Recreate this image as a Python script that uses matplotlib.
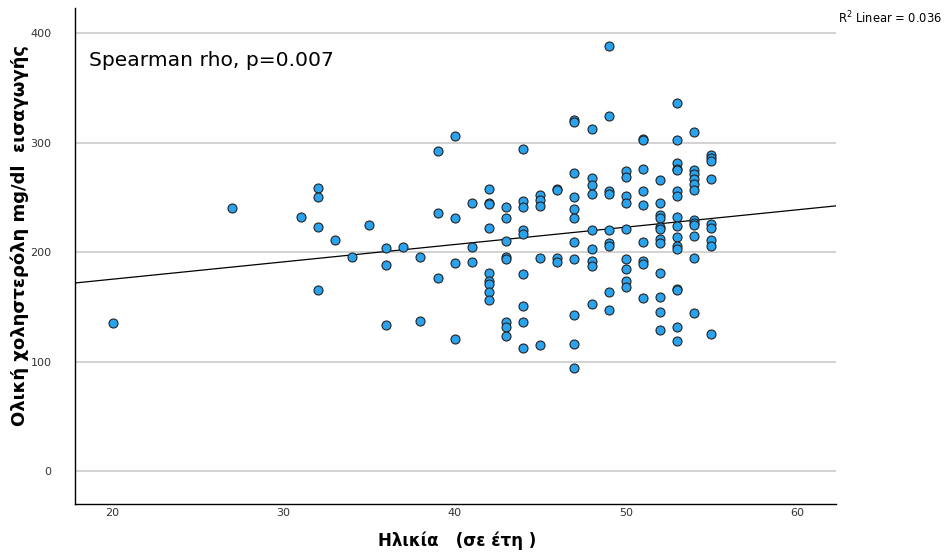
import numpy as np
import matplotlib
matplotlib.use("Agg")
import matplotlib.pyplot as plt

# Data (age -> cholesterol values)
ages_by_group = [20, 27, 31, 32, 33, 34, 35, 36, 37, 38, 39, 40, 41, 42, 43, 44,
                 45, 46, 47, 48, 49, 50, 51, 52, 53, 54, 55]
chol_by_group = [
    [135],
    [240],
    [232],
    [259, 250, 223, 165],
    [211],
    [196],
    [225],
    [204, 188, 133],
    [205],
    [196, 137],
    [292, 236, 176],
    [306, 231, 190, 121],
    [245, 205, 191],
    [258, 245, 244, 222, 181, 174, 171, 164, 156],
    [241, 231, 210, 196, 194, 136, 132, 123],
    [294, 247, 241, 220, 217, 180, 151, 136, 112],
    [252, 248, 242, 195, 115],
    [258, 257, 195, 191],
    [321, 319, 272, 250, 239, 231, 209, 194, 143, 116, 94],
    [312, 268, 261, 253, 220, 203, 192, 187, 153],
    [388, 324, 256, 253, 220, 208, 206, 164, 147],
    [274, 269, 251, 245, 221, 194, 185, 174, 168],
    [303, 302, 276, 256, 243, 209, 192, 189, 158],
    [266, 245, 234, 231, 223, 221, 212, 208, 181, 159, 145, 129],
    [336, 302, 281, 276, 275, 256, 251, 232, 224, 214, 206, 203, 166, 165, 132, 119],
    [310, 275, 271, 267, 262, 257, 229, 227, 225, 215, 195, 144],
    [289, 286, 283, 267, 226, 222, 211, 206, 125],
]
x_ticks = [20, 30, 40, 50, 60]
y_ticks = [0, 100, 200, 300, 400]
x_label = "Ηλικία   (σε έτη )"
y_label = "Ολική χοληστερόλη mg/dl  εισαγωγής"
annot_text = "Spearman rho, p=0.007"
r2_text = r"R$^2$ Linear = 0.036"

ages = np.concatenate([[a] * len(v) for a, v in zip(ages_by_group, chol_by_group)])
chol = np.concatenate(chol_by_group)

fig = plt.figure(figsize=(9.48, 5.58), dpi=100)
ax = fig.add_axes([0.0791, 0.0968, 0.8029, 0.889])

xlim = (17.8, 62.3)
ylim = (-30, 423)
ax.set_xlim(*xlim)
ax.set_ylim(*ylim)

for y in y_ticks:
    ax.axhline(y, color="#cfcfcf", lw=1.3, zorder=0)

slope, intercept = np.polyfit(ages, chol, 1)
xs = np.array(xlim)
ax.plot(xs, intercept + slope * xs, color="black", lw=0.9, zorder=2)

ax.scatter(ages, chol, s=42, color="#2aa3ef", edgecolors="#222222",
           linewidths=0.8, zorder=3)

ax.set_xticks(x_ticks)
ax.set_yticks(y_ticks)
ax.tick_params(axis="both", length=0, labelsize=8, colors="#333333")
ax.tick_params(axis="y", pad=17)
ax.tick_params(axis="x", pad=3)
for s in ["top", "right"]:
    ax.spines[s].set_visible(False)
for s in ["left", "bottom"]:
    ax.spines[s].set_color("black")
    ax.spines[s].set_linewidth(1.0)

ax.set_xlabel(x_label, fontsize=12, fontweight="bold")
ax.set_ylabel(y_label, fontsize=13, fontweight="bold")
ax.xaxis.set_label_coords(0.502, -0.0746, transform=ax.transAxes)
ax.xaxis.label.set_va("center")
ax.yaxis.set_label_coords(-0.072, 0.542, transform=ax.transAxes)
ax.yaxis.label.set_va("center")

ax.text(0.019, 0.895, annot_text, transform=ax.transAxes, fontsize=14.6,
        color="black", va="center", ha="left")
fig.text(0.884, 0.968, r2_text, fontsize=8.3, color="black", va="center", ha="left")

fig.savefig("out.png", dpi=100)
